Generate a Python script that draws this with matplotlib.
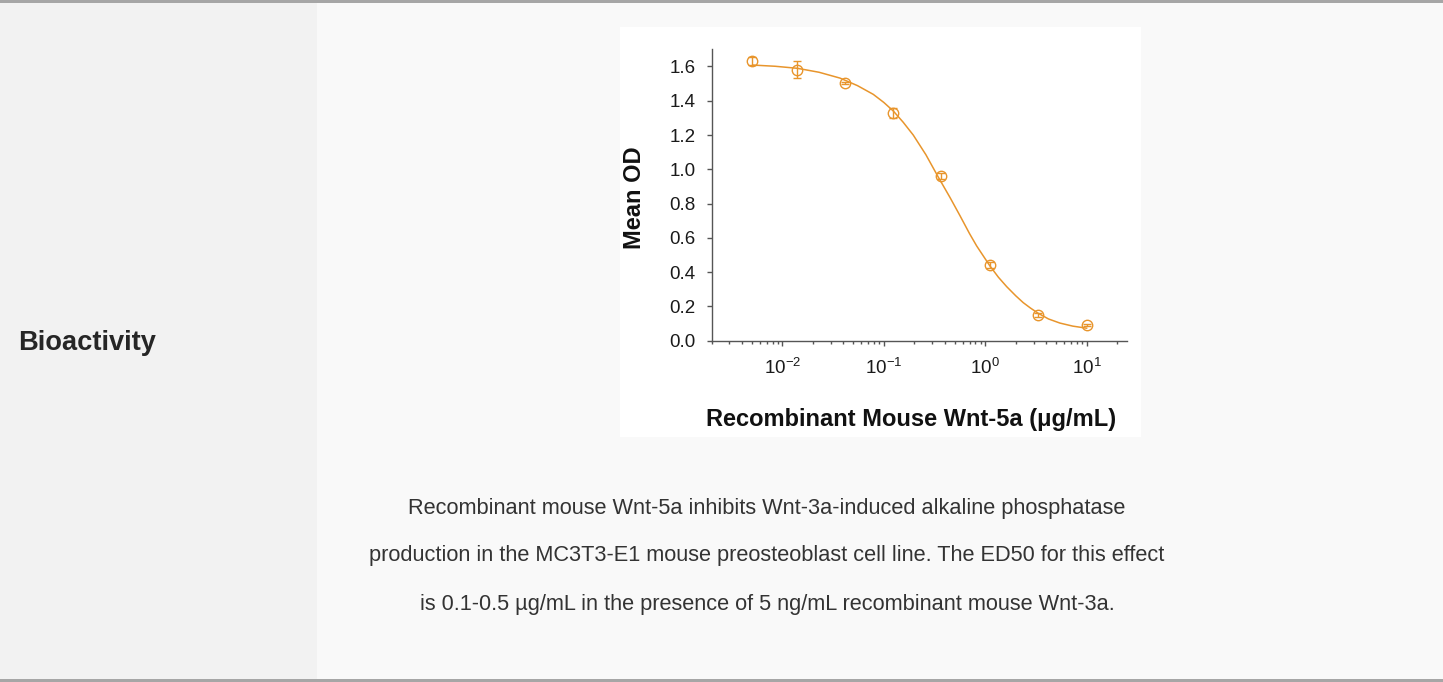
import matplotlib
matplotlib.use('Agg')
import matplotlib.pyplot as plt
from matplotlib.patches import Rectangle
from matplotlib.ticker import FixedLocator, NullFormatter

plt.rcParams['font.family'] = ['Liberation Sans', 'DejaVu Sans']
plt.rcParams['mathtext.fontset'] = 'custom'
plt.rcParams['mathtext.rm'] = 'Liberation Sans'

# measured data points (conc in ug/mL, mean OD, error)
conc = [0.005, 0.014, 0.041, 0.123, 0.37, 1.11, 3.33, 10.0]
mean_od = [1.633, 1.582, 1.504, 1.329, 0.962, 0.443, 0.150, 0.090]
err = [0.022, 0.047, 0.004, 0.030, 0.018, 0.018, 0.014, 0.006]

# fitted curve
fit_x = [0.0051, 0.0085, 0.0141, 0.023, 0.037, 0.055, 0.0788, 0.10, 0.124, 0.155,
         0.195, 0.26, 0.344, 0.45, 0.563, 0.70, 0.823, 1.11, 1.35, 1.63, 2.0,
         2.37, 2.8, 3.33, 4.2, 5.44, 7.3, 10.0]
fit_y = [1.608, 1.601, 1.589, 1.566, 1.532, 1.488, 1.437, 1.390, 1.340, 1.275,
         1.200, 1.085, 0.955, 0.835, 0.730, 0.625, 0.553, 0.437, 0.370, 0.315, 0.262,
         0.222, 0.190, 0.160, 0.127, 0.103, 0.085, 0.073]

yticks = [0.0, 0.2, 0.4, 0.6, 0.8, 1.0, 1.2, 1.4, 1.6]
xticks = [0.01, 0.1, 1, 10]
xticklabels = [r'$\mathregular{10^{-2}}$', r'$\mathregular{10^{-1}}$',
               r'$\mathregular{10^{0}}$', r'$\mathregular{10^{1}}$']

caption = ['Recombinant mouse Wnt-5a inhibits Wnt-3a-induced alkaline phosphatase',
           'production in the MC3T3-E1 mouse preosteoblast cell line. The ED50 for this effect',
           'is 0.1-0.5 \u00b5g/mL in the presence of 5 ng/mL recombinant mouse Wnt-3a.']

orange = '#e8952c'
W, H = 1443, 682

fig = plt.figure(figsize=(W / 100, H / 100), dpi=100)
fig.patch.set_facecolor('#f9f9f9')

def rect(x0, y0, x1, y1, c):
    fig.patches.append(Rectangle((x0 / W, 1 - y1 / H), (x1 - x0) / W, (y1 - y0) / H,
                                 transform=fig.transFigure, color=c, lw=0, zorder=-5))

rect(0, 0, 317, H, '#f2f2f2')
rect(620, 27, 1141, 437, 'white')
rect(0, 0, W, 3, '#a6a6a6')
rect(0, H - 3, W, H, '#a6a6a6')

ax = fig.add_axes([711.5 / W, 1 - 340.7 / H, 415.5 / W, 291.4 / H])
ax.patch.set_alpha(0)
ax.set_xscale('log')

ax.plot(fit_x, fit_y, color=orange, lw=1.1, zorder=2)
ax.errorbar(conc, mean_od, yerr=err, fmt='o', mfc='none', mec=orange, ecolor=orange,
            ms=7.5, mew=1.0, elinewidth=1.0, capsize=3, capthick=1.0, zorder=3)

ax.set_xlim(0.002, 25)
ax.set_ylim(0, 1.7)

for s in ['top', 'right']:
    ax.spines[s].set_visible(False)
for s in ['left', 'bottom']:
    ax.spines[s].set_color('#555555')
    ax.spines[s].set_linewidth(1.0)

ax.yaxis.set_major_locator(FixedLocator(yticks))
ax.set_yticklabels([f'{v:.1f}' for v in yticks])
ax.xaxis.set_major_locator(FixedLocator(xticks))
ax.set_xticklabels(xticklabels)
minors = [m * 10.0 ** e for e in range(-3, 2) for m in range(2, 10)]
ax.xaxis.set_minor_locator(FixedLocator([v for v in minors if 0.002 <= v <= 25]))
ax.xaxis.set_minor_formatter(NullFormatter())

ax.tick_params(axis='y', length=3.5, width=1, color='#555555', pad=8, labelsize=13.5,
               labelcolor='#1a1a1a')
ax.tick_params(axis='x', which='major', length=3.5, width=1, color='#555555', pad=9,
               labelsize=13.5, labelcolor='#1a1a1a')
ax.tick_params(axis='x', which='minor', length=2, width=1, color='#555555')

ax.set_ylabel('Mean OD', fontsize=17, fontweight='bold', color='#111111', va='center')
ax.yaxis.set_label_coords(-0.185, 0.49)
ax.set_xlabel('Recombinant Mouse Wnt-5a (\u03bcg/mL)', fontsize=17, fontweight='bold',
              color='#111111', va='center')
ax.xaxis.set_label_coords(0.481, -0.272)

fig.text(18 / W, 1 - 350 / H, 'Bioactivity', fontsize=19.6, fontweight='bold',
         color='#262626', va='baseline')

for line, yb in zip(caption, [514, 561, 610]):
    fig.text(767 / W, 1 - yb / H, line, fontsize=15.7, ha='center', va='baseline',
             color='#333333')

fig.savefig('out.png', dpi=100, facecolor=fig.get_facecolor())
